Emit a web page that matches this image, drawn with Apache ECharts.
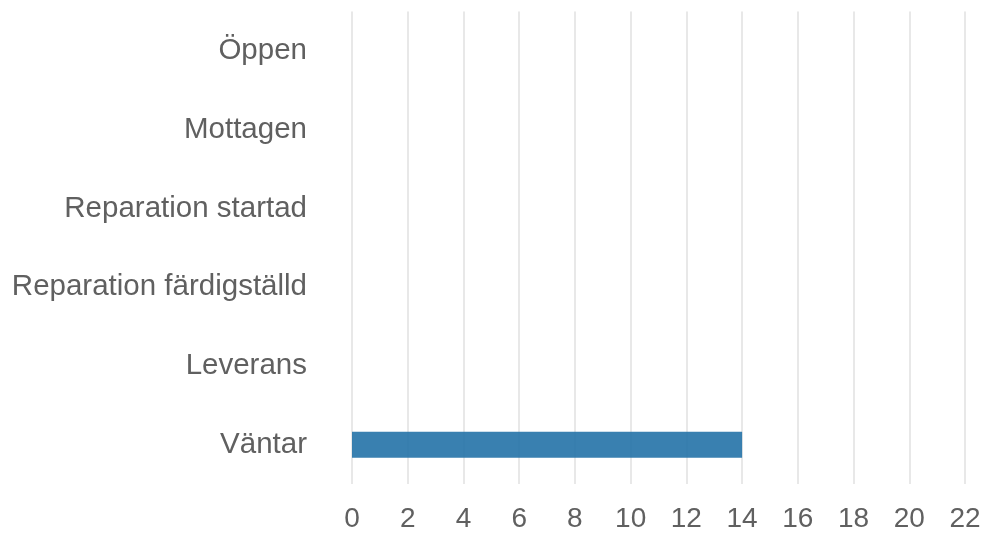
<!DOCTYPE html>
<html>
<head>
<meta charset="utf-8">
<script src="https://cdn.jsdelivr.net/npm/echarts@6/dist/echarts.min.js"></script>
<style>
  html, body { margin: 0; padding: 0; background: #fff; }
  #chart { width: 992px; height: 533px; }
</style>
</head>
<body>
<div id="chart"></div>
<script>
// Status categories, top to bottom
const categories = [
  "Öppen",
  "Mottagen",
  "Reparation startad",
  "Reparation färdigställd",
  "Leverans",
  "Väntar",
];
const counts = [0, 0, 0, 0, 0, 14];
const xMax = 22;
const xStep = 2;

const myChart = echarts.init(document.getElementById("chart"));

const option = {
  animation: false,
  grid: {
    left: 352,
    right: 27,
    top: 11.5,
    bottom: 47.5,
  },
  xAxis: {
    type: "value",
    min: 0,
    max: xMax,
    interval: xStep,
    axisLine: { show: false },
    axisTick: { show: false },
    axisLabel: {
      fontFamily: "Liberation Sans, Arial, sans-serif",
      fontSize: 28,
      color: "#606060",
      margin: 21,
    },
    splitLine: {
      lineStyle: { color: "#e8e8e8", width: 2 },
    },
  },
  yAxis: {
    type: "category",
    inverse: true,
    data: categories,
    axisLine: { show: false },
    axisTick: { show: false },
    splitLine: { show: false },
    axisLabel: {
      fontFamily: "Liberation Sans, Arial, sans-serif",
      fontSize: 29.5,
      color: "#606060",
      margin: 45,
      padding: [0, 0, 7, 0],
    },
  },
  series: [
    {
      type: "bar",
      data: counts,
      barWidth: 26,
      itemStyle: {
        color: "rgba(30,110,165,0.88)",
      },
    },
  ],
};

myChart.setOption(option);
</script>
</body>
</html>
